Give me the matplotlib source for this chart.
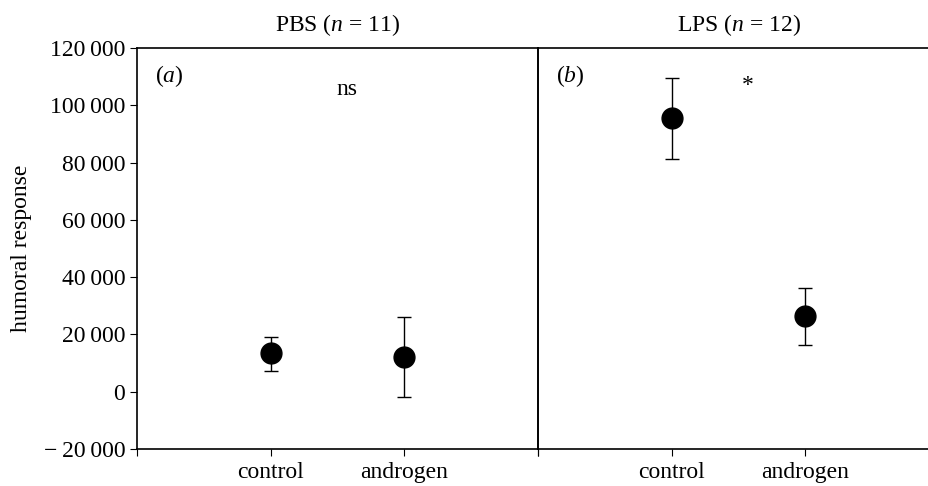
import matplotlib
matplotlib.use("Agg")
import matplotlib.pyplot as plt
from matplotlib.ticker import FuncFormatter

plt.rcParams['font.family'] = ['Liberation Serif', 'DejaVu Serif']
plt.rcParams['mathtext.fontset'] = 'custom'
plt.rcParams['mathtext.rm'] = 'Liberation Serif'
plt.rcParams['mathtext.it'] = 'Liberation Serif:italic'

# data
groups = ["control", "androgen"]
pbs_mean = [13400, 12200]
pbs_low = [7300, -1700]
pbs_high = [19200, 26200]
lps_mean = [95400, 26400]
lps_low = [81200, 16400]
lps_high = [109400, 36300]

yticks = [-20000, 0, 20000, 40000, 60000, 80000, 100000, 120000]


def fmt(v, pos):
    v = int(round(v))
    s = "{:,}".format(abs(v)).replace(",", "\u2009")
    if v < 0:
        return "\u2212\u2009" + s
    return s


W, H = 929, 486
fig = plt.figure(figsize=(W / 100, H / 100), dpi=100)
ax1 = fig.add_axes([137 / W, 37 / H, 401 / W, 401 / H])
ax2 = fig.add_axes([538 / W, 37 / H, 401 / W, 401 / H])

panels = [
    (ax1, pbs_mean, pbs_low, pbs_high, "PBS ($n$ = 11)", "($a$)", "ns"),
    (ax2, lps_mean, lps_low, lps_high, "LPS ($n$ = 12)", "($b$)", "*"),
]

for ax, mean, low, high, title, tag, sig in panels:
    x = [1, 2]
    err = [[m - l for m, l in zip(mean, low)], [h - m for m, h in zip(mean, high)]]
    ax.errorbar(x, mean, yerr=err, fmt='o', color='black', ms=15,
                capsize=5, elinewidth=1, capthick=1)
    ax.set_xlim(0, 3)
    ax.set_ylim(-20000, 120000)
    ax.set_xticks([0, 1, 2, 3])
    ax.set_xticklabels([""] + groups + [""], fontsize=17)
    ax.tick_params(axis='x', direction='out', length=5, pad=4)
    ax.set_title(title, fontsize=17, pad=12)
    ax.text(0.045, 0.93, tag, transform=ax.transAxes, fontsize=17,
            ha='left', va='center')
    ax.text(1.57, 105500 if sig == "ns" else 107000, sig, fontsize=17,
            ha='center', va='center')
    for s in ax.spines.values():
        s.set_linewidth(1.2)
        s.set_color('black')

ax1.set_yticks(yticks)
ax1.yaxis.set_major_formatter(FuncFormatter(fmt))
ax1.tick_params(axis='y', direction='out', length=5, labelsize=17)
ax1.set_ylabel("humoral response", fontsize=17, labelpad=8)

ax2.set_yticks([])
ax2.patch.set_visible(False)

fig.savefig("out.png", dpi=100)
